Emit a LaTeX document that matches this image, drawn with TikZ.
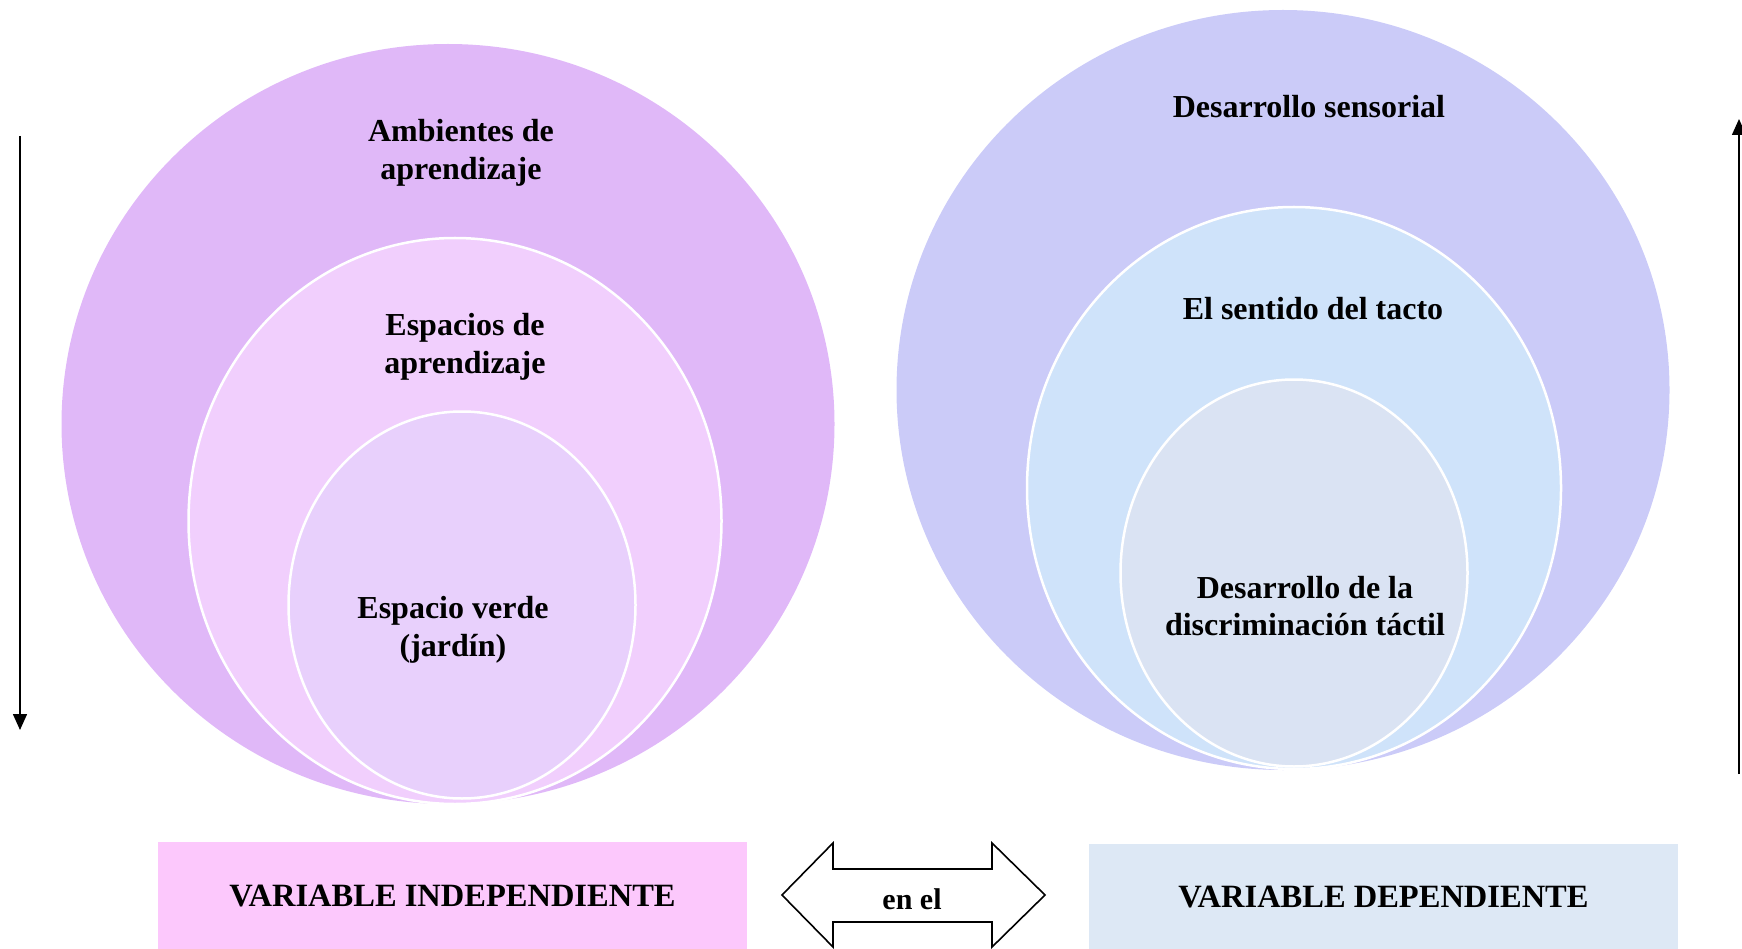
\documentclass[tikz,border=0pt]{standalone}
\usepackage{fontspec}
\setmainfont{Liberation Serif}
\usetikzlibrary{shapes.geometric,arrows.meta}
\definecolor{outerL}{HTML}{E0B8F8}
\definecolor{midL}{HTML}{F1CFFD}
\definecolor{innL}{HTML}{E8D0FC}
\definecolor{boxL}{HTML}{FCC8FC}
\definecolor{outerR}{HTML}{CBCBF8}
\definecolor{midR}{HTML}{CFE3FA}
\definecolor{innR}{HTML}{DAE3F3}
\definecolor{boxR}{HTML}{DDE8F5}
\tikzset{
  blob/.style={ellipse, inner sep=0pt, outer sep=0pt},
  ring/.style={blob, draw=white, line width=2.5pt},
  lbl/.style={font=\fontsize{32}{37.5}\selectfont\bfseries, align=center, inner sep=0pt},
  varbox/.style={rectangle, inner sep=0pt, outer sep=0pt, font=\fontsize{32.5}{38}\selectfont\bfseries},
  varrow/.style={line width=1.5pt, -{Triangle[length=16pt,width=14pt]}},
}
\begin{document}
\begin{tikzpicture}[x=1pt,y=-1pt]
\useasboundingbox (0,0) rectangle (1742,949);
% left circles
\node[blob, fill=outerL, minimum width=773pt, minimum height=760pt] (Lo) at (448,424) {};
\node[ring, fill=midL, minimum width=533pt, minimum height=566pt] (Lm) at (455,521) {};
\node[ring, fill=innL, minimum width=347pt, minimum height=387pt] (Li) at (462,605) {};
% right circles
\node[blob, fill=outerR, minimum width=773pt, minimum height=760pt] (Ro) at (1283,390) {};
\node[ring, fill=midR, minimum width=534pt, minimum height=562pt] (Rm) at (1294,488) {};
\node[ring, fill=innR, minimum width=347pt, minimum height=387pt] (Ri) at (1294,573) {};
% labels
\node[lbl] (t1) at (461,153) {Ambientes de\\aprendizaje};
\node[lbl] (t2) at (465,347) {Espacios de\\aprendizaje};
\node[lbl] (t3) at (453,630) {Espacio verde\\(jardín)};
\node[lbl] (t4) at (1309,107) {Desarrollo sensorial};
\node[lbl] (t5) at (1313,309) {El sentido del tacto};
\node[lbl] (t6) at (1305,606) {Desarrollo de la\\discriminación táctil};
% bottom boxes
\node[varbox, fill=boxL, minimum width=589pt, minimum height=108pt] (VI) at (452.5,896) {VARIABLE INDEPENDIENTE};
\node[varbox, fill=boxR, minimum width=589pt, minimum height=106pt] (VD) at (1383.5,897) {VARIABLE DEPENDIENTE};
% double arrow
\draw[line width=1.6pt, line join=miter, fill=white]
  (782,895) -- (833,843) -- (833,869) -- (992,869) -- (992,843) -- (1045,895)
  -- (992,947) -- (992,922) -- (833,922) -- (833,947) -- cycle;
\node[font=\fontsize{30}{34}\selectfont\bfseries, inner sep=0pt] (en) at (912,899) {en el};
% side arrows
\coordinate (a1) at (20,136);
\coordinate (a2) at (20,730);
\coordinate (b1) at (1739,774);
\coordinate (b2) at (1739,119);
\draw[varrow] (a1) -- (a2);
\draw[varrow] (b1) -- (b2);
\end{tikzpicture}
\end{document}
